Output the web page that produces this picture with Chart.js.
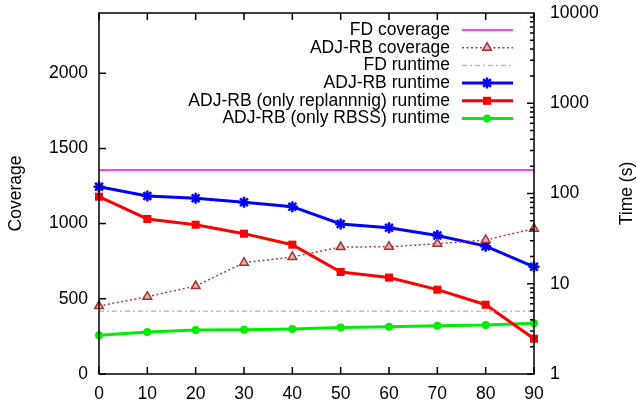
<!DOCTYPE html>
<html>
<head>
<meta charset="utf-8">
<script src="https://cdn.jsdelivr.net/npm/chart.js@4"></script>
<style>
  body { margin: 0; background: #fff; }
</style>
</head>
<body>
<canvas id="chart" width="636" height="405"></canvas>
<script>
// data
let ratios = [0, 10, 20, 30, 40, 50, 60, 70, 80, 90];
let fdCoverage = 1356;
let adjCoverage = [452, 514, 585, 740, 778, 844, 846, 866, 891, 966];
let fdRuntime = 4.95;
let adjRuntime = [119, 93.8, 88.5, 80, 71.4, 45.9, 41.8, 34.2, 26.1, 15.4];
let replanRuntime = [92.2, 52.2, 45.1, 35.9, 27.1, 13.5, 11.7, 8.6, 5.86, 2.46];
let rbssRuntime = [2.68, 2.92, 3.07, 3.1, 3.15, 3.27, 3.34, 3.43, 3.49, 3.65];
let coverageTicks = [0, 500, 1000, 1500, 2000];
let timeTicks = [1, 10, 100, 1000, 10000];

let font = { size: 17.5, family: "Liberation Sans" };

function pts(values) {
  return ratios.map((x, i) => ({ x: x, y: Array.isArray(values) ? values[i] : values }));
}

// fixed axis box sizes, no label overflow padding
function fixBox(size) {
  return function (s) {
    if (s.isHorizontal()) s.height = size; else s.width = size;
    s.paddingTop = 0; s.paddingBottom = 0; s.paddingLeft = 0; s.paddingRight = 0;
  };
}

// ! gnuplot-like frame, inward ticks, titles
let framePlugin = {
  id: "frame",
  afterDraw(chart) {
    let ctx = chart.ctx;
    let a = chart.chartArea;
    let sx = chart.scales.x, sy = chart.scales.y, sy2 = chart.scales.y2;
    ctx.save();
    ctx.strokeStyle = "#000";
    ctx.lineWidth = 1.5;
    ctx.strokeRect(a.left, a.top, a.right - a.left, a.bottom - a.top);
    ctx.beginPath();
    sx.ticks.forEach(t => {
      let x = sx.getPixelForValue(t.value);
      ctx.moveTo(x, a.bottom); ctx.lineTo(x, a.bottom - 7);
      ctx.moveTo(x, a.top); ctx.lineTo(x, a.top + 7);
    });
    sy.ticks.forEach(t => {
      let y = sy.getPixelForValue(t.value);
      ctx.moveTo(a.left, y); ctx.lineTo(a.left + 7, y);
    });
    for (let d = 1; d < 10000; d *= 10) {
      for (let m = 1; m < 10; m++) {
        let y = sy2.getPixelForValue(d * m);
        ctx.moveTo(a.right, y); ctx.lineTo(a.right - (m === 1 ? 7 : 4), y);
      }
    }
    ctx.stroke();

    // axis titles
    ctx.fillStyle = "#000";
    ctx.font = font.size + "px " + font.family;
    ctx.textAlign = "center";
    ctx.textBaseline = "middle";
    let cy = (a.top + a.bottom) / 2;
    ctx.translate(16, cy); ctx.rotate(-Math.PI / 2);
    ctx.fillText("Coverage", 0, 0);
    ctx.setTransform(1, 0, 0, 1, 0, 0);
    ctx.translate(627, cy); ctx.rotate(-Math.PI / 2);
    ctx.fillText("Time (s)", 0, 0);
    ctx.restore();
  },
};

// ! legend: right aligned text, sample on the right
let legendPlugin = {
  id: "gpLegend",
  afterDraw(chart) {
    let ctx = chart.ctx;
    ctx.save();
    ctx.font = font.size + "px " + font.family;
    ctx.textAlign = "right";
    ctx.textBaseline = "middle";
    chart.data.datasets.forEach((ds, i) => {
      let y = 30 + i * 17.7;
      ctx.fillStyle = "#000";
      ctx.fillText(ds.label, 450, y);
      ctx.strokeStyle = ds.borderColor;
      ctx.lineWidth = ds.borderWidth;
      ctx.setLineDash(ds.borderDash || []);
      ctx.beginPath();
      ctx.moveTo(462, y); ctx.lineTo(513, y);
      ctx.stroke();
      ctx.setLineDash([]);
      if (ds.pointRadius > 0) {
        ctx.fillStyle = ds.pointBackgroundColor;
        ctx.strokeStyle = ds.pointBorderColor;
        ctx.lineWidth = ds.pointBorderWidth;
        Chart.helpers.drawPoint(ctx, {
          pointStyle: ds.pointStyle,
          radius: ds.pointRadius,
          rotation: 0,
          borderWidth: ds.pointBorderWidth,
        }, 487, y);
      }
    });
    ctx.restore();
  },
};

let chartEl = document.querySelector("#chart");
new Chart(chartEl, {
  type: "line",
  plugins: [framePlugin, legendPlugin],
  options: {
    responsive: false,
    animation: false,
    devicePixelRatio: 1,
    layout: { padding: { top: 13, left: 0, right: 0, bottom: 0 } },
    plugins: {
      legend: { display: false },
      tooltip: { enabled: false },
    },
    scales: {
      x: {
        type: "linear",
        min: 0,
        max: 90,
        grid: { display: false, drawTicks: false },
        border: { display: false },
        ticks: { stepSize: 10, font: font, color: "#000", padding: 10, maxRotation: 0 },
        afterFit: fixBox(31),
      },
      y: {
        position: "left",
        min: 0,
        max: 2400,
        grid: { display: false, drawTicks: false },
        border: { display: false },
        ticks: { font: font, color: "#000", padding: 11, callback: v => String(v) },
        afterBuildTicks(s) { s.ticks = coverageTicks.map(v => ({ value: v })); },
        afterFit: fixBox(99),
      },
      y2: {
        type: "logarithmic",
        position: "right",
        min: 1,
        max: 10000,
        grid: { display: false, drawTicks: false },
        border: { display: false },
        ticks: { font: font, color: "#000", padding: 16, callback: v => String(v) },
        afterBuildTicks(s) { s.ticks = timeTicks.map(v => ({ value: v })); },
        afterFit: fixBox(102),
      },
    },
  },
  data: {
    datasets: [
      {
        label: "FD coverage",
        data: pts(fdCoverage),
        yAxisID: "y",
        borderColor: "#ff00ff",
        borderWidth: 1.5,
        pointRadius: 0,
      },
      {
        label: "ADJ-RB coverage",
        data: pts(adjCoverage),
        yAxisID: "y",
        borderColor: "#b03c3c",
        borderWidth: 1.5,
        borderDash: [2, 2.5],
        pointStyle: "triangle",
        pointRadius: 5,
        pointBorderWidth: 1.5,
        pointBackgroundColor: "#dcb4b4",
        pointBorderColor: "#a83232",
      },
      {
        label: "FD runtime",
        data: pts(fdRuntime),
        yAxisID: "y2",
        borderColor: "#c0c0c0",
        borderWidth: 1.5,
        borderDash: [5, 3, 2, 3],
        pointRadius: 0,
      },
      {
        label: "ADJ-RB runtime",
        data: pts(adjRuntime),
        yAxisID: "y2",
        borderColor: "#0000ff",
        borderWidth: 3,
        pointStyle: "star",
        pointRadius: 5.5,
        pointBorderWidth: 2.5,
        pointBackgroundColor: "#0000ff",
        pointBorderColor: "#0000ff",
      },
      {
        label: "ADJ-RB (only replannnig) runtime",
        data: pts(replanRuntime),
        yAxisID: "y2",
        borderColor: "#ff0000",
        borderWidth: 3,
        pointStyle: "rect",
        pointRadius: 5.7,
        pointBorderWidth: 0,
        pointBackgroundColor: "#ff0000",
        pointBorderColor: "#ff0000",
      },
      {
        label: "ADJ-RB (only RBSS) runtime",
        data: pts(rbssRuntime),
        yAxisID: "y2",
        borderColor: "#00ee00",
        borderWidth: 3,
        pointStyle: "circle",
        pointRadius: 4,
        pointBorderWidth: 0,
        pointBackgroundColor: "#00ee00",
        pointBorderColor: "#00ee00",
      },
    ].map(ds => Object.assign({ clip: false, fill: false, tension: 0 }, ds)),
  },
});
</script>
</body>
</html>
